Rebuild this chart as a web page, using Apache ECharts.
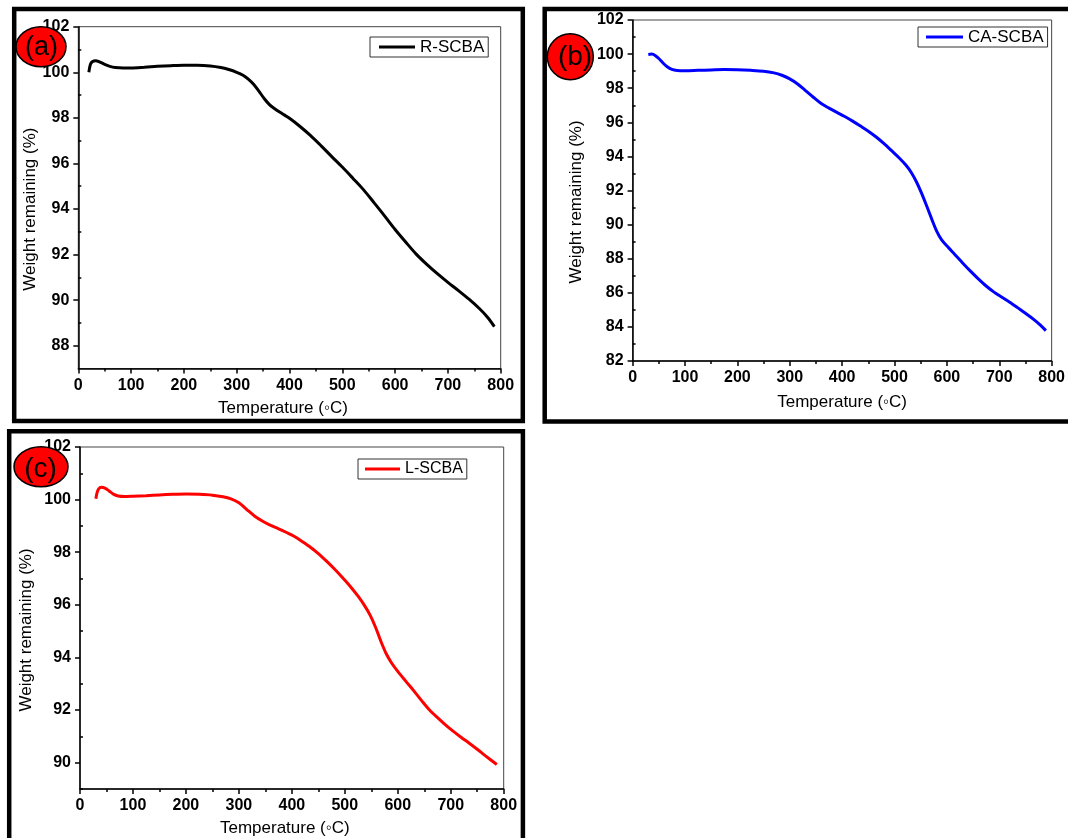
<!DOCTYPE html>
<html>
<head>
<meta charset="utf-8">
<script src="https://cdn.jsdelivr.net/npm/echarts@6/dist/echarts.min.js"></script>
<style>
html,body{margin:0;padding:0;background:#fff;}
#chart{width:1068px;height:838px;}
</style>
</head>
<body>
<div id="chart"></div>
<script>
// ---- Data ----
const tempA = [20, 23, 27, 33, 40, 50, 60, 70, 85, 100, 125, 150, 175, 200, 225, 250, 270, 285, 300, 312, 322, 332, 342, 352, 362, 372, 385, 400, 420, 440, 460, 480, 500, 520, 540, 560, 580, 600, 620, 640, 660, 680, 700, 720, 740, 760, 775, 788];
const weightA = [100.0, 100.35, 100.47, 100.51, 100.46, 100.35, 100.26, 100.21, 100.19, 100.19, 100.22, 100.26, 100.29, 100.31, 100.31, 100.28, 100.21, 100.12, 100.0, 99.87, 99.7, 99.47, 99.17, 98.85, 98.58, 98.4, 98.2, 97.98, 97.62, 97.22, 96.77, 96.3, 95.84, 95.35, 94.85, 94.28, 93.7, 93.1, 92.55, 92.02, 91.57, 91.16, 90.78, 90.42, 90.04, 89.62, 89.25, 88.84];

const tempB = [30, 37, 43, 50, 58, 66, 75, 85, 100, 125, 150, 175, 200, 225, 250, 270, 285, 300, 315, 330, 345, 360, 375, 390, 405, 420, 435, 450, 465, 480, 495, 510, 522, 532, 542, 552, 562, 572, 580, 590, 602, 615, 630, 645, 660, 675, 690, 705, 720, 735, 750, 765, 778, 789];
const weightB = [99.98, 100.0, 99.92, 99.74, 99.48, 99.26, 99.1, 99.04, 99.03, 99.05, 99.07, 99.09, 99.08, 99.05, 99.0, 98.9, 98.76, 98.55, 98.25, 97.86, 97.47, 97.1, 96.83, 96.58, 96.34, 96.07, 95.78, 95.48, 95.14, 94.75, 94.32, 93.88, 93.48, 93.06, 92.5, 91.82, 91.05, 90.25, 89.65, 89.1, 88.68, 88.25, 87.75, 87.27, 86.82, 86.4, 86.04, 85.74, 85.45, 85.13, 84.8, 84.46, 84.12, 83.78];

const tempC = [30, 32, 35, 40, 47, 55, 63, 72, 85, 100, 125, 150, 175, 200, 225, 250, 270, 285, 300, 315, 330, 345, 360, 375, 390, 405, 420, 435, 450, 465, 480, 495, 510, 525, 537, 548, 558, 568, 578, 588, 600, 615, 630, 645, 660, 675, 690, 705, 720, 735, 750, 765, 787];
const weightC = [100.03, 100.25, 100.4, 100.47, 100.44, 100.33, 100.21, 100.14, 100.12, 100.13, 100.15, 100.18, 100.2, 100.21, 100.2, 100.17, 100.11, 100.03, 99.88, 99.62, 99.37, 99.18, 99.02, 98.89, 98.75, 98.6, 98.4, 98.19, 97.95, 97.67, 97.37, 97.05, 96.71, 96.33, 95.98, 95.6, 95.15, 94.62, 94.15, 93.8, 93.47, 93.1, 92.74, 92.36, 92.0, 91.71, 91.44, 91.19, 90.96, 90.74, 90.51, 90.27, 89.93];

const seriesNames = ['R-SCBA', 'CA-SCBA', 'L-SCBA'];
const seriesColors = ['#000000', '#0000ff', '#ff0000'];
const panelLabels = ['(a)', '(b)', '(c)'];

const xTicks = [0, 100, 200, 300, 400, 500, 600, 700, 800];
const yTicksA = [88, 90, 92, 94, 96, 98, 100, 102];
const yMinorA = [89, 91, 93, 95, 97, 99, 101];
const yTicksB = [82, 84, 86, 88, 90, 92, 94, 96, 98, 100, 102];
const yMinorB = [83, 85, 87, 89, 91, 93, 95, 97, 99, 101];
const yTicksC = [90, 92, 94, 96, 98, 100, 102];
const yMinorC = [89, 91, 93, 95, 97, 99, 101];

const xTitle = 'Temperature (\u25E6C)';
const yTitle = 'Weight remaining (%)';

// ---- Layout ----
const FONT = 'Liberation Sans, Arial, sans-serif';
const grids = [
  {left: 78.3, top: 26.7, width: 422.4, height: 341.8},
  {left: 632.6, top: 20, width: 420.9, height: 341},
  {left: 80, top: 447, width: 423.7, height: 343}
];
const yRanges = [[87, 102], [82, 102], [89, 102]];
const yMajor = [yTicksA, yTicksB, yTicksC];
const yMinor = [yMinorA, yMinorB, yMinorC];
const yNameGap = [38, 48, 45];
const xNameGap = [31, 33, 31];
const xNamePad = [[0, 13, 0, 0], [0, 0, 0, 0], [0, 14, 0, 0]];
const yNamePad = [[0, 23, 0, 0], [0, 23, 0, 0], [0, 24, 0, 0]];

const axisLineStyle = {color: '#000', width: 1.5};
const tickLabel = {color: '#000', fontSize: 16, fontWeight: 'bold', fontFamily: FONT};

const xAxis = [], yAxis = [], series = [], legend = [];
const temps = [tempA, tempB, tempC];
const weights = [weightA, weightB, weightC];

for (let i = 0; i < 3; i++) {
  xAxis.push({
    type: 'value', gridIndex: i, min: xTicks[0], max: xTicks[xTicks.length - 1], interval: 100,
    name: xTitle, nameLocation: 'middle', nameGap: xNameGap[i],
    nameTextStyle: {color: '#000', fontSize: 17, fontFamily: FONT, padding: xNamePad[i]},
    axisLine: {show: true, onZero: false, lineStyle: axisLineStyle},
    axisTick: {show: true, inside: false, length: 5, lineStyle: {color: '#000', width: 1.5}},
    minorTick: {show: true, splitNumber: 2, length: 3, lineStyle: {color: '#000', width: 1.5}},
    axisLabel: Object.assign({margin: 9, showMinLabel: true, showMaxLabel: true}, tickLabel),
    splitLine: {show: false}
  });
  yAxis.push({
    type: 'value', gridIndex: i, min: yRanges[i][0], max: yRanges[i][1],
    name: yTitle, nameLocation: 'middle', nameGap: yNameGap[i],
    nameTextStyle: {color: '#000', fontSize: 17, fontFamily: FONT, padding: yNamePad[i]},
    axisLine: {show: true, onZero: false, lineStyle: axisLineStyle},
    axisTick: {show: true, inside: false, length: 5, customValues: yMajor[i], lineStyle: {color: '#000', width: 1.5}},
    axisLabel: Object.assign({margin: 9, customValues: yMajor[i]}, tickLabel),
    splitLine: {show: false}
  });
  yAxis.push({
    type: 'value', gridIndex: i, min: yRanges[i][0], max: yRanges[i][1],
    axisLine: {show: false},
    axisTick: {show: true, inside: false, length: 3, customValues: yMinor[i], lineStyle: {color: '#000', width: 1.5}},
    axisLabel: {show: false},
    splitLine: {show: false}
  });
  series.push({
    type: 'line', name: seriesNames[i], xAxisIndex: i, yAxisIndex: i * 2,
    data: temps[i].map((t, k) => [t, weights[i][k]]),
    showSymbol: false, symbol: 'none', smooth: 0.3,
    lineStyle: {color: seriesColors[i], width: 3},
    itemStyle: {color: seriesColors[i]},
    z: 5
  });
}

const legendPos = [
  {left: 370, top: 37, pad: [1, 4, 1, 9], w: 36, fs: 17},
  {left: 918, top: 27, pad: [1, 4, 1, 8], w: 37, fs: 17},
  {left: 358, top: 459, pad: [1, 4, 1, 7], w: 35, fs: 16}
];
for (let i = 0; i < 3; i++) {
  const p = legendPos[i];
  legend.push({
    data: [seriesNames[i]], left: p.left, top: p.top, orient: 'horizontal',
    padding: p.pad, itemWidth: p.w, itemHeight: 3, icon: 'rect',
    borderColor: '#333', borderWidth: 1, backgroundColor: '#fff',
    selectedMode: false,
    textStyle: {color: '#000', fontSize: p.fs, fontFamily: FONT, lineHeight: 18}
  });
}

const graphic = [
  {type: 'rect', shape: {x: 14.2, y: 9, width: 508.6, height: 412}, style: {fill: 'none', stroke: '#000', lineWidth: 4.5}, z: 1},
  {type: 'rect', shape: {x: 544.7, y: 8.9, width: 560, height: 412.6}, style: {fill: 'none', stroke: '#000', lineWidth: 4.5}, z: 1},
  {type: 'rect', shape: {x: 9.2, y: 431.3, width: 513.7, height: 440}, style: {fill: 'none', stroke: '#000', lineWidth: 4.5}, z: 1},
  {type: 'ellipse', shape: {cx: 41, cy: 46.7, rx: 25, ry: 20}, style: {fill: '#ff0000', stroke: '#000', lineWidth: 1.5}, z: 100},
  {type: 'text', x: 41.5, y: 48, style: {text: panelLabels[0], font: '27px ' + FONT, fill: '#000', align: 'center', verticalAlign: 'middle'}, z: 101},
  {type: 'circle', shape: {cx: 570.3, cy: 56.7, r: 23}, style: {fill: '#ff0000', stroke: '#000', lineWidth: 1.5}, z: 100},
  {type: 'text', x: 575, y: 57, style: {text: panelLabels[1], font: '28px ' + FONT, fill: '#000', align: 'center', verticalAlign: 'middle'}, z: 101},
  {type: 'ellipse', shape: {cx: 41, cy: 466.7, rx: 27, ry: 20}, style: {fill: '#ff0000', stroke: '#000', lineWidth: 1.5}, z: 100},
  {type: 'text', x: 40.5, y: 469, style: {text: panelLabels[2], font: '28px ' + FONT, fill: '#000', align: 'center', verticalAlign: 'middle'}, z: 101}
];

const chart = echarts.init(document.getElementById('chart'), null, {renderer: 'canvas'});
chart.setOption({
  animation: false,
  backgroundColor: '#fff',
  grid: grids.map(g => Object.assign({show: true, borderColor: '#444', borderWidth: 1, containLabel: false}, g)),
  xAxis: xAxis,
  yAxis: yAxis,
  legend: legend,
  series: series,
  graphic: graphic
});
</script>
</body>
</html>
